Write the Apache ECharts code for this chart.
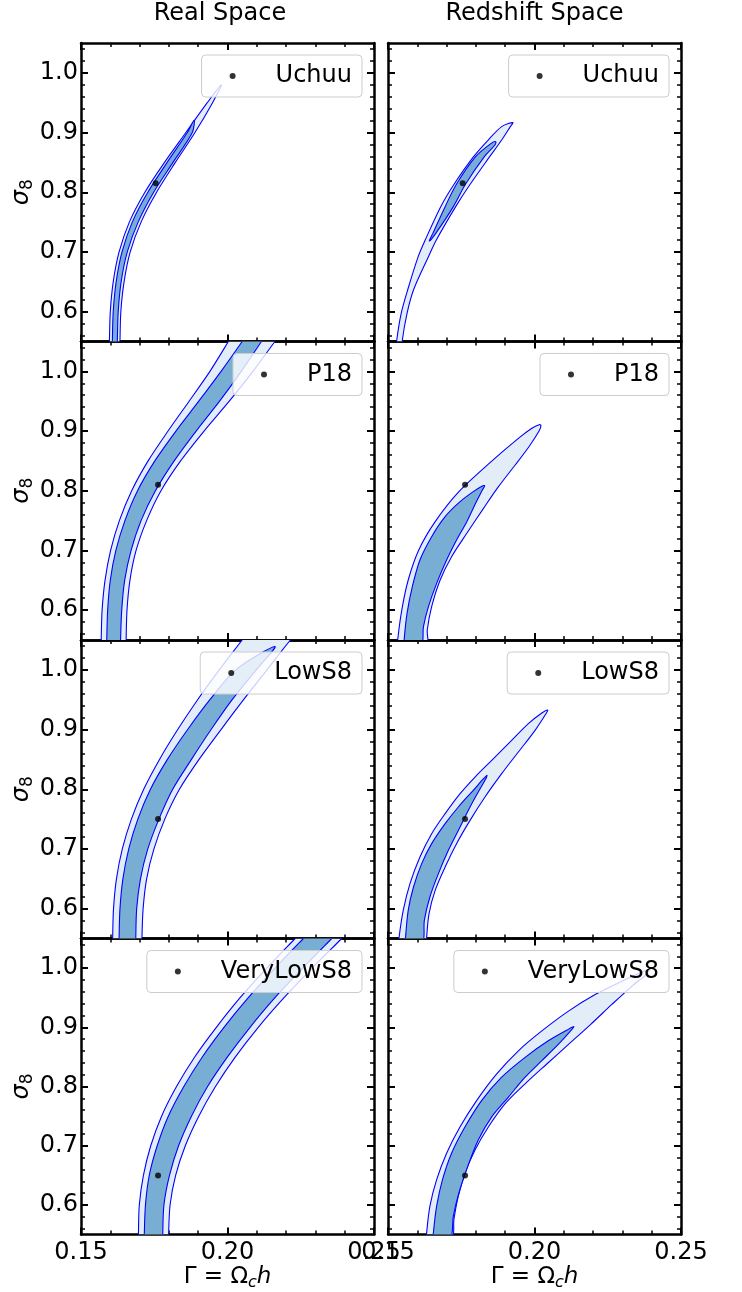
<!DOCTYPE html>
<html>
<head>
<meta charset="utf-8">
<script src="https://cdn.jsdelivr.net/npm/echarts@6/dist/echarts.min.js"></script>
<style>
  html, body { margin: 0; padding: 0; background: #ffffff; }
  #chart { width: 742px; height: 1292px; }
</style>
</head>
<body>
<div id="chart"></div>
<script>
// ---- axes ----
const GAMMA_MIN = 0.15, GAMMA_MAX = 0.25, GAMMA_STEP = 0.05;
const S8_MIN = 0.55, S8_MAX = 1.05;
const s8MajorTicks = [0.6, 0.7, 0.8, 0.9, 1.0];
const s8MinorTicks = [0.56, 0.58, 0.62, 0.64, 0.66, 0.68, 0.72, 0.74, 0.76, 0.78,
                      0.82, 0.84, 0.86, 0.88, 0.92, 0.94, 0.96, 0.98, 1.02, 1.04];

// ---- panels ----
const spaces = ['Real Space', 'Redshift Space'];
const models = ['Uchuu', 'P18', 'LowS8', 'VeryLowS8'];

// fiducial cosmology of each simulation (Gamma = Omega_c h, sigma_8)
const fiducialGamma  = [0.1755, 0.1763, 0.1763, 0.1763];
const fiducialSigma8 = [0.815, 0.810, 0.750, 0.650];

// ---- confidence contours, [Gamma, sigma_8] vertices ----
// real space, 95% and 68%
const realUchuu95 = [[0.1597,0.54],[0.1597,0.55],[0.1600,0.60],[0.1610,0.65],[0.1630,0.70],[0.1665,0.75],[0.1718,0.80],[0.1785,0.85],[0.1858,0.90],[0.1931,0.95],[0.1979,0.980],
                     [0.1949,0.95],[0.1889,0.90],[0.1822,0.85],[0.1758,0.80],[0.1705,0.75],[0.1668,0.70],[0.1647,0.65],[0.1636,0.60],[0.1633,0.55],[0.1633,0.54]];
const realUchuu68 = [[0.1607,0.54],[0.1607,0.55],[0.1610,0.60],[0.1620,0.65],[0.1640,0.70],[0.1675,0.75],[0.1728,0.80],[0.1794,0.85],[0.1863,0.90],[0.1886,0.9206],
                     [0.1880,0.90],[0.1814,0.85],[0.1748,0.80],[0.1695,0.75],[0.1658,0.70],[0.1637,0.65],[0.1627,0.60],[0.1624,0.55],[0.1624,0.54]];

const realP1895 = [[0.1569,0.53],[0.1569,0.55],[0.1572,0.60],[0.1582,0.65],[0.1601,0.70],[0.1631,0.75],[0.1673,0.80],[0.1729,0.85],[0.1797,0.90],[0.1869,0.95],[0.1940,1.00],[0.2003,1.05],[0.2027,1.07],
                   [0.2195,1.07],[0.2162,1.05],[0.2087,1.00],[0.2006,0.95],[0.1920,0.90],[0.1840,0.85],[0.1773,0.80],[0.1724,0.75],[0.1688,0.70],[0.1667,0.65],[0.1657,0.60],[0.1654,0.55],[0.1654,0.53]];
const realP1868 = [[0.1588,0.53],[0.1588,0.55],[0.1591,0.60],[0.1600,0.65],[0.1619,0.70],[0.1650,0.75],[0.1693,0.80],[0.1752,0.85],[0.1824,0.90],[0.1902,0.95],[0.1978,1.00],[0.2050,1.05],[0.2077,1.07],
                   [0.2144,1.07],[0.2116,1.05],[0.2047,1.00],[0.1973,0.95],[0.1893,0.90],[0.1818,0.85],[0.1754,0.80],[0.1705,0.75],[0.1671,0.70],[0.1649,0.65],[0.1639,0.60],[0.1635,0.55],[0.1635,0.53]];

const realLowS895 = [[0.1608,0.53],[0.1608,0.55],[0.1611,0.60],[0.1621,0.65],[0.1641,0.70],[0.1672,0.75],[0.1714,0.80],[0.1768,0.85],[0.1830,0.90],[0.1898,0.95],[0.1972,1.00],[0.2050,1.05],[0.2080,1.07],
                     [0.2255,1.07],[0.2215,1.05],[0.2135,1.00],[0.2055,0.95],[0.1978,0.90],[0.1903,0.85],[0.1836,0.80],[0.1786,0.75],[0.1749,0.70],[0.1724,0.65],[0.1712,0.60],[0.1708,0.55],[0.1708,0.53]];
const realLowS868 = [[0.1630,0.53],[0.1630,0.55],[0.1633,0.60],[0.1643,0.65],[0.1663,0.70],[0.1694,0.75],[0.1737,0.80],[0.1795,0.85],[0.1864,0.90],[0.1940,0.95],[0.2028,1.00],[0.2162,1.039],
                     [0.2098,1.00],[0.2016,0.95],[0.1944,0.90],[0.1877,0.85],[0.1813,0.80],[0.1766,0.75],[0.1728,0.70],[0.1703,0.65],[0.1690,0.60],[0.1687,0.55],[0.1687,0.53]];

const realVeryLowS895 = [[0.1696,0.53],[0.1696,0.55],[0.1699,0.60],[0.1713,0.65],[0.1738,0.70],[0.1775,0.75],[0.1826,0.80],[0.1888,0.85],[0.1962,0.90],[0.2043,0.95],[0.2134,1.00],[0.2231,1.05],[0.2270,1.07],
                         [0.2430,1.07],[0.2390,1.05],[0.2289,1.00],[0.2193,0.95],[0.2105,0.90],[0.2027,0.85],[0.1959,0.80],[0.1902,0.75],[0.1856,0.70],[0.1823,0.65],[0.1804,0.60],[0.1799,0.55],[0.1799,0.53]];
const realVeryLowS868 = [[0.1716,0.53],[0.1716,0.55],[0.1720,0.60],[0.1733,0.65],[0.1760,0.70],[0.1798,0.75],[0.1851,0.80],[0.1914,0.85],[0.1988,0.90],[0.2071,0.95],[0.2162,1.00],[0.2259,1.05],[0.2299,1.07],
                         [0.2396,1.07],[0.2356,1.05],[0.2257,1.00],[0.2162,0.95],[0.2077,0.90],[0.2000,0.85],[0.1932,0.80],[0.1877,0.75],[0.1833,0.70],[0.1802,0.65],[0.1783,0.60],[0.1779,0.55],[0.1779,0.53]];

// redshift space, 95% and 68%
const zUchuu95 = [[0.1530,0.541],[0.1530,0.5525],[0.1545,0.5972],[0.1567,0.6363],[0.1603,0.6921],[0.1627,0.7200],[0.1680,0.7759],[0.1726,0.8138],[0.1792,0.8596],[0.1842,0.8875],[0.1888,0.9099],[0.1926,0.9166],
                  [0.1916,0.9087],[0.1888,0.8875],[0.1847,0.8596],[0.1781,0.8138],[0.1731,0.7759],[0.1665,0.7200],[0.1638,0.6921],[0.1587,0.6363],[0.1565,0.5972],[0.1549,0.5525],[0.1550,0.541]];
const zUchuu68 = [[0.1641,0.7183],[0.1653,0.7311],[0.1695,0.7759],[0.1734,0.8138],[0.1799,0.8596],[0.1852,0.8819],[0.1868,0.8847],
                  [0.1865,0.8791],[0.1829,0.8596],[0.1765,0.8138],[0.1723,0.7759],[0.1663,0.7311]];

const zP1895 = [[0.1533,0.539],[0.1533,0.550],[0.1547,0.6002],[0.1569,0.6505],[0.1605,0.7007],[0.1661,0.7482],[0.1742,0.7985],[0.1852,0.8487],[0.1945,0.8878],[0.1991,0.9046],[0.2016,0.9107],[0.2022,0.9096],
                [0.2016,0.9006],[0.1981,0.8738],[0.1934,0.8431],[0.1877,0.8068],[0.1826,0.7705],[0.1769,0.7287],[0.1717,0.6896],[0.1678,0.6505],[0.1649,0.6058],[0.1634,0.5667],[0.1632,0.539]];
const zP1868 = [[0.1555,0.539],[0.1555,0.550],[0.1565,0.5947],[0.1583,0.6393],[0.1609,0.6840],[0.1649,0.7231],[0.1695,0.7566],[0.1746,0.7817],[0.1791,0.7985],[0.1822,0.8080],[0.1830,0.8085],
                [0.1822,0.8013],[0.1799,0.7789],[0.1769,0.7482],[0.1734,0.7175],[0.1700,0.6840],[0.1666,0.6449],[0.1638,0.6058],[0.1621,0.5723],[0.1613,0.539]];

const zLowS895 = [[0.1538,0.541],[0.1538,0.5525],[0.1552,0.5972],[0.1575,0.6419],[0.1609,0.6865],[0.1649,0.7256],[0.1695,0.7591],[0.1746,0.7926],[0.1797,0.8205],[0.1854,0.8484],[0.1922,0.8819],[0.1979,0.9099],[0.2025,0.9277],[0.2045,0.9328],
                  [0.2038,0.9255],[0.2002,0.8987],[0.1945,0.8624],[0.1888,0.8261],[0.1831,0.7870],[0.1780,0.7479],[0.1734,0.7089],[0.1695,0.6698],[0.1661,0.6307],[0.1640,0.5916],[0.1632,0.5525],[0.1632,0.541]];
const zLowS868 = [[0.1560,0.541],[0.1560,0.5525],[0.1569,0.5972],[0.1587,0.6363],[0.1615,0.6754],[0.1649,0.7089],[0.1695,0.7424],[0.1740,0.7703],[0.1791,0.7982],[0.1826,0.8177],[0.1838,0.8233],
                  [0.1831,0.8149],[0.1808,0.7954],[0.1780,0.7703],[0.1746,0.7368],[0.1706,0.6977],[0.1672,0.6586],[0.1643,0.6195],[0.1624,0.5805],[0.1617,0.541]];

const zVeryLowS895 = [[0.1632,0.542],[0.1632,0.5533],[0.1643,0.5980],[0.1666,0.6427],[0.1700,0.6874],[0.1746,0.7320],[0.1803,0.7767],[0.1871,0.8214],[0.1945,0.8604],[0.2025,0.8939],[0.2116,0.9274],[0.2207,0.9554],[0.2309,0.9805],[0.2377,0.9956],[0.2392,0.9972],
                      [0.2383,0.9900],[0.2332,0.9693],[0.2264,0.9386],[0.2192,0.9051],[0.2117,0.8716],[0.2042,0.8381],[0.1968,0.8046],[0.1900,0.7711],[0.1843,0.7320],[0.1797,0.6929],[0.1763,0.6538],[0.1740,0.6148],[0.1725,0.5757],[0.1717,0.542]];
const zVeryLowS868 = [[0.1655,0.542],[0.1655,0.5533],[0.1666,0.5980],[0.1686,0.6427],[0.1717,0.6874],[0.1763,0.7320],[0.1820,0.7767],[0.1888,0.8158],[0.1968,0.8493],[0.2047,0.8772],[0.2110,0.8951],[0.2134,0.9012],
                      [0.2121,0.8928],[0.2082,0.8716],[0.2025,0.8437],[0.1968,0.8158],[0.1911,0.7823],[0.1854,0.7488],[0.1808,0.7097],[0.1772,0.6650],[0.1742,0.6203],[0.1723,0.5813],[0.1712,0.542]];

const contours95 = [[realUchuu95, zUchuu95], [realP1895, zP1895], [realLowS895, zLowS895], [realVeryLowS895, zVeryLowS895]];
const contours68 = [[realUchuu68, zUchuu68], [realP1868, zP1868], [realLowS868, zLowS868], [realVeryLowS868, zVeryLowS868]];

// ---- style / layout ----
const FONT = "'DejaVu Sans', sans-serif";
const FS = 24;
const FILL_95 = '#e3edf7';
const FILL_68 = '#79aed4';
const LINE_BLUE = '#0000ff';
const PANEL_LEFT = [81, 388];
const PANEL_W = 293;
const PANEL_TOP = 43;
const PANEL_H = 298.5;
const LEGEND_RIGHT = [380, 73];
const TITLE_PAD = [[0, 15, 0, 0], [0, 0, 0, 0]];

const grids = [], xAxes = [], yAxes = [], series = [], legends = [];

function spine() { return { show: true, onZero: false, lineStyle: { color: '#000', width: 2.5 } }; }
function majorTick(extra) { return Object.assign({ show: true, inside: true, length: 7, lineStyle: { color: '#000', width: 2 } }, extra || {}); }
const minorX = { show: true, splitNumber: 5, length: 4, lineStyle: { color: '#000', width: 1.5 } };

function contourSeries(points, fill, xi, yi) {
  return {
    type: 'custom', xAxisIndex: xi, yAxisIndex: yi, clip: true, silent: true, z: 2,
    data: points,
    renderItem: function (params, api) {
      if (params.dataIndex !== 0) return null;
      const cs = params.coordSys;
      return {
        type: 'polygon',
        shape: { points: points.map(function (p) { return api.coord(p); }), smooth: 0.3 },
        style: { fill: fill, stroke: LINE_BLUE, lineWidth: 1.1 },
        clipPath: { type: 'rect', shape: { x: cs.x, y: cs.y, width: cs.width, height: cs.height } }
      };
    }
  };
}

for (let r = 0; r < models.length; r++) {
  for (let c = 0; c < spaces.length; c++) {
    const g = grids.length;
    const top = PANEL_TOP + r * PANEL_H;
    grids.push({ left: PANEL_LEFT[c], top: top, width: PANEL_W, height: PANEL_H });

    const bottomRow = r === models.length - 1;
    const xi = xAxes.length;
    xAxes.push({
      gridIndex: g, type: 'value', position: 'bottom',
      min: GAMMA_MIN, max: GAMMA_MAX, interval: GAMMA_STEP,
      axisLine: spine(), axisTick: majorTick(), minorTick: minorX,
      splitLine: { show: false }, minorSplitLine: { show: false },
      axisLabel: { show: bottomRow, margin: 6, color: '#000', fontFamily: FONT, fontSize: FS,
                   formatter: function (v) { return v.toFixed(2); } },
      name: bottomRow ? '{a|\u0393 = \u03A9}{s|c}{i|h}' : '',
      nameLocation: 'middle', nameGap: 28,
      nameTextStyle: {
        color: '#000', fontFamily: FONT, fontSize: 23,
        rich: {
          a: { fontFamily: FONT, fontSize: 23, color: '#000', lineHeight: 28 },
          s: { fontFamily: FONT, fontSize: 16, fontStyle: 'italic', color: '#000', verticalAlign: 'bottom', lineHeight: 10 },
          i: { fontFamily: FONT, fontSize: 23, fontStyle: 'italic', color: '#000', lineHeight: 28 }
        }
      }
    });
    xAxes.push({
      gridIndex: g, type: 'value', position: 'top',
      min: GAMMA_MIN, max: GAMMA_MAX, interval: GAMMA_STEP,
      axisLine: spine(), axisTick: majorTick(), minorTick: minorX,
      splitLine: { show: false }, minorSplitLine: { show: false },
      axisLabel: { show: false },
      name: r === 0 ? spaces[c] : '',
      nameLocation: 'middle', nameGap: 17,
      nameTextStyle: { color: '#000', fontFamily: FONT, fontSize: FS, padding: TITLE_PAD[c] }
    });

    const yi = yAxes.length;
    yAxes.push({
      gridIndex: g, type: 'value', position: 'left', min: S8_MIN, max: S8_MAX,
      axisLine: spine(), axisTick: majorTick({ customValues: s8MajorTicks }),
      splitLine: { show: false },
      axisLabel: { show: c === 0, customValues: s8MajorTicks, margin: 3, color: '#000', fontFamily: FONT, fontSize: FS,
                   formatter: function (v) { return v.toFixed(1); } },
      name: c === 0 ? '{i|\u03C3}{s|8}' : '',
      nameLocation: 'middle', nameGap: 37,
      nameTextStyle: {
        color: '#000', fontFamily: FONT, fontSize: FS,
        rich: {
          i: { fontFamily: FONT, fontSize: FS, fontStyle: 'italic', color: '#000', lineHeight: 28 },
          s: { fontFamily: FONT, fontSize: 17, color: '#000', verticalAlign: 'bottom', lineHeight: 10 }
        }
      }
    });
    yAxes.push({
      gridIndex: g, type: 'value', position: 'right', min: S8_MIN, max: S8_MAX,
      axisLine: spine(), axisTick: majorTick({ customValues: s8MajorTicks }),
      splitLine: { show: false }, axisLabel: { show: false }
    });
    // minor sigma_8 ticks on both sides
    ['left', 'right'].forEach(function (pos) {
      yAxes.push({
        gridIndex: g, type: 'value', position: pos, min: S8_MIN, max: S8_MAX,
        axisLine: { show: false },
        axisTick: { show: true, inside: true, length: 4, customValues: s8MinorTicks, lineStyle: { color: '#000', width: 1.5 } },
        splitLine: { show: false }, axisLabel: { show: false }
      });
    });

    series.push(contourSeries(contours95[r][c], FILL_95, xi, yi));
    series.push(contourSeries(contours68[r][c], FILL_68, xi, yi));
    series.push({
      type: 'scatter', name: models[r], xAxisIndex: xi, yAxisIndex: yi, z: 5,
      symbol: 'circle', symbolSize: 6, itemStyle: { color: '#000' },
      data: [[fiducialGamma[r], fiducialSigma8[r]]]
    });

    legends.push({
      data: [{ name: models[r], icon: 'circle', itemStyle: { color: '#000' } }],
      selectedMode: false,
      right: LEGEND_RIGHT[c], top: top + 12,
      itemWidth: 64, itemHeight: 6,
      padding: [9, 10, 9, 28],
      backgroundColor: 'rgba(255,255,255,0.8)',
      borderColor: '#cccccc', borderWidth: 1, borderRadius: 4,
      textStyle: { color: '#000', fontFamily: FONT, fontSize: FS, lineHeight: 24, padding: [0, 0, 0, 6] }
    });
  }
}

const chart = echarts.init(document.getElementById('chart'), null, { renderer: 'canvas' });
chart.setOption({
  animation: false,
  backgroundColor: '#ffffff',
  grid: grids,
  xAxis: xAxes,
  yAxis: yAxes,
  legend: legends,
  series: series
});
</script>
</body>
</html>
